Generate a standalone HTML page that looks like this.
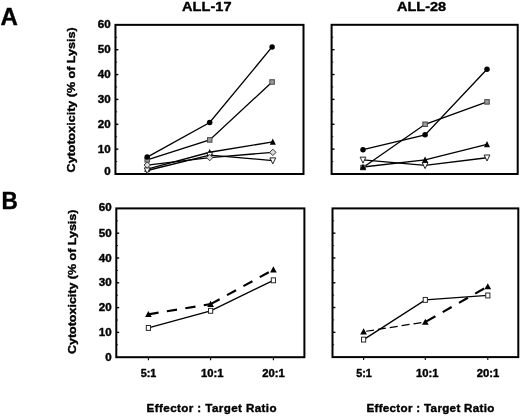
<!DOCTYPE html>
<html lang="en"><head><meta charset="utf-8"><title>Cytotoxicity figure</title>
<style>html,body{margin:0;padding:0;background:#fff;}svg{display:block;will-change:transform;}text{font-family:'Liberation Sans', Arial, Helvetica, sans-serif;font-weight:bold;fill:#000;stroke:#000;stroke-width:0.4px;stroke-linejoin:round;}</style>
</head><body>
<svg width="520" height="416" viewBox="0 0 520 416">
<rect width="520" height="416" fill="#fff"/>
<rect x="115.45" y="24.85" width="188.05" height="149.15" fill="none" stroke="#000" stroke-width="2.0"/>
<line x1="115.45" y1="49.71" x2="118.35000000000001" y2="49.71" stroke="#000" stroke-width="1.4"/>
<line x1="115.45" y1="74.57" x2="118.35000000000001" y2="74.57" stroke="#000" stroke-width="1.4"/>
<line x1="115.45" y1="99.43" x2="118.35000000000001" y2="99.43" stroke="#000" stroke-width="1.4"/>
<line x1="115.45" y1="124.28" x2="118.35000000000001" y2="124.28" stroke="#000" stroke-width="1.4"/>
<line x1="115.45" y1="149.14" x2="118.35000000000001" y2="149.14" stroke="#000" stroke-width="1.4"/>
<line x1="115.45" y1="37.28" x2="117.15" y2="37.28" stroke="#000" stroke-width="0.8"/>
<line x1="115.45" y1="62.14" x2="117.15" y2="62.14" stroke="#000" stroke-width="0.8"/>
<line x1="115.45" y1="87.00" x2="117.15" y2="87.00" stroke="#000" stroke-width="0.8"/>
<line x1="115.45" y1="111.85" x2="117.15" y2="111.85" stroke="#000" stroke-width="0.8"/>
<line x1="115.45" y1="136.71" x2="117.15" y2="136.71" stroke="#000" stroke-width="0.8"/>
<line x1="115.45" y1="161.57" x2="117.15" y2="161.57" stroke="#000" stroke-width="0.8"/>
<rect x="331.6" y="24.8" width="186.10" height="149.20" fill="none" stroke="#000" stroke-width="2.0"/>
<line x1="331.6" y1="49.67" x2="334.5" y2="49.67" stroke="#000" stroke-width="1.4"/>
<line x1="331.6" y1="74.53" x2="334.5" y2="74.53" stroke="#000" stroke-width="1.4"/>
<line x1="331.6" y1="99.40" x2="334.5" y2="99.40" stroke="#000" stroke-width="1.4"/>
<line x1="331.6" y1="124.27" x2="334.5" y2="124.27" stroke="#000" stroke-width="1.4"/>
<line x1="331.6" y1="149.13" x2="334.5" y2="149.13" stroke="#000" stroke-width="1.4"/>
<line x1="331.6" y1="37.23" x2="333.3" y2="37.23" stroke="#000" stroke-width="0.8"/>
<line x1="331.6" y1="62.10" x2="333.3" y2="62.10" stroke="#000" stroke-width="0.8"/>
<line x1="331.6" y1="86.97" x2="333.3" y2="86.97" stroke="#000" stroke-width="0.8"/>
<line x1="331.6" y1="111.83" x2="333.3" y2="111.83" stroke="#000" stroke-width="0.8"/>
<line x1="331.6" y1="136.70" x2="333.3" y2="136.70" stroke="#000" stroke-width="0.8"/>
<line x1="331.6" y1="161.57" x2="333.3" y2="161.57" stroke="#000" stroke-width="0.8"/>
<rect x="116.3" y="208.4" width="188.10" height="148.80" fill="none" stroke="#000" stroke-width="2.0"/>
<line x1="116.3" y1="233.20" x2="119.2" y2="233.20" stroke="#000" stroke-width="1.4"/>
<line x1="116.3" y1="258.00" x2="119.2" y2="258.00" stroke="#000" stroke-width="1.4"/>
<line x1="116.3" y1="282.80" x2="119.2" y2="282.80" stroke="#000" stroke-width="1.4"/>
<line x1="116.3" y1="307.60" x2="119.2" y2="307.60" stroke="#000" stroke-width="1.4"/>
<line x1="116.3" y1="332.40" x2="119.2" y2="332.40" stroke="#000" stroke-width="1.4"/>
<line x1="116.3" y1="220.80" x2="118.0" y2="220.80" stroke="#000" stroke-width="0.8"/>
<line x1="116.3" y1="245.60" x2="118.0" y2="245.60" stroke="#000" stroke-width="0.8"/>
<line x1="116.3" y1="270.40" x2="118.0" y2="270.40" stroke="#000" stroke-width="0.8"/>
<line x1="116.3" y1="295.20" x2="118.0" y2="295.20" stroke="#000" stroke-width="0.8"/>
<line x1="116.3" y1="320.00" x2="118.0" y2="320.00" stroke="#000" stroke-width="0.8"/>
<line x1="116.3" y1="344.80" x2="118.0" y2="344.80" stroke="#000" stroke-width="0.8"/>
<rect x="332.5" y="208.4" width="185.80" height="148.70" fill="none" stroke="#000" stroke-width="2.0"/>
<line x1="332.5" y1="233.18" x2="335.4" y2="233.18" stroke="#000" stroke-width="1.4"/>
<line x1="332.5" y1="257.97" x2="335.4" y2="257.97" stroke="#000" stroke-width="1.4"/>
<line x1="332.5" y1="282.75" x2="335.4" y2="282.75" stroke="#000" stroke-width="1.4"/>
<line x1="332.5" y1="307.53" x2="335.4" y2="307.53" stroke="#000" stroke-width="1.4"/>
<line x1="332.5" y1="332.32" x2="335.4" y2="332.32" stroke="#000" stroke-width="1.4"/>
<line x1="332.5" y1="220.79" x2="334.2" y2="220.79" stroke="#000" stroke-width="0.8"/>
<line x1="332.5" y1="245.58" x2="334.2" y2="245.58" stroke="#000" stroke-width="0.8"/>
<line x1="332.5" y1="270.36" x2="334.2" y2="270.36" stroke="#000" stroke-width="0.8"/>
<line x1="332.5" y1="295.14" x2="334.2" y2="295.14" stroke="#000" stroke-width="0.8"/>
<line x1="332.5" y1="319.93" x2="334.2" y2="319.93" stroke="#000" stroke-width="0.8"/>
<line x1="332.5" y1="344.71" x2="334.2" y2="344.71" stroke="#000" stroke-width="0.8"/>
<line x1="148.4" y1="357.2" x2="148.4" y2="360.2" stroke="#000" stroke-width="1.1"/>
<line x1="210.6" y1="357.2" x2="210.6" y2="360.2" stroke="#000" stroke-width="1.1"/>
<line x1="273.4" y1="357.2" x2="273.4" y2="360.2" stroke="#000" stroke-width="1.1"/>
<line x1="363.6" y1="357.1" x2="363.6" y2="360.1" stroke="#000" stroke-width="1.1"/>
<line x1="425.3" y1="357.1" x2="425.3" y2="360.1" stroke="#000" stroke-width="1.1"/>
<line x1="487.8" y1="357.1" x2="487.8" y2="360.1" stroke="#000" stroke-width="1.1"/>
<text x="0.4" y="25" font-size="24">A</text>
<text x="1.5" y="208.5" font-size="23.3" textLength="16.3" lengthAdjust="spacingAndGlyphs">B</text>
<text x="182.1" y="11.3" font-size="13.5" textLength="49.4" lengthAdjust="spacingAndGlyphs">ALL-17</text>
<text x="397.1" y="11.3" font-size="13.5" textLength="49.0" lengthAdjust="spacingAndGlyphs">ALL-28</text>
<text x="110.6" y="28.00" font-size="10.6" text-anchor="end" textLength="12.9" lengthAdjust="spacingAndGlyphs">60</text>
<text x="110.6" y="53.07" font-size="10.6" text-anchor="end" textLength="12.9" lengthAdjust="spacingAndGlyphs">50</text>
<text x="110.6" y="78.33" font-size="10.6" text-anchor="end" textLength="12.9" lengthAdjust="spacingAndGlyphs">40</text>
<text x="110.6" y="103.30" font-size="10.6" text-anchor="end" textLength="12.9" lengthAdjust="spacingAndGlyphs">30</text>
<text x="110.6" y="128.17" font-size="10.6" text-anchor="end" textLength="12.9" lengthAdjust="spacingAndGlyphs">20</text>
<text x="110.6" y="152.63" font-size="10.6" text-anchor="end" textLength="12.9" lengthAdjust="spacingAndGlyphs">10</text>
<text x="110.6" y="174.80" font-size="10.6" text-anchor="end" textLength="6.45" lengthAdjust="spacingAndGlyphs">0</text>
<text x="111.6" y="211.30" font-size="10.6" text-anchor="end" textLength="12.9" lengthAdjust="spacingAndGlyphs">60</text>
<text x="111.6" y="237.00" font-size="10.6" text-anchor="end" textLength="12.9" lengthAdjust="spacingAndGlyphs">50</text>
<text x="111.6" y="261.90" font-size="10.6" text-anchor="end" textLength="12.9" lengthAdjust="spacingAndGlyphs">40</text>
<text x="111.6" y="286.00" font-size="10.6" text-anchor="end" textLength="12.9" lengthAdjust="spacingAndGlyphs">30</text>
<text x="111.6" y="310.90" font-size="10.6" text-anchor="end" textLength="12.9" lengthAdjust="spacingAndGlyphs">20</text>
<text x="111.6" y="335.70" font-size="10.6" text-anchor="end" textLength="12.9" lengthAdjust="spacingAndGlyphs">10</text>
<text x="111.6" y="360.90" font-size="10.6" text-anchor="end" textLength="6.45" lengthAdjust="spacingAndGlyphs">0</text>
<text transform="translate(75.1,172.4) rotate(-90)" font-size="11.6" textLength="145.0" lengthAdjust="spacingAndGlyphs">Cytotoxicity (% of Lysis)</text>
<text transform="translate(76.0,354.0) rotate(-90)" font-size="11.6" textLength="144.4" lengthAdjust="spacingAndGlyphs">Cytotoxicity (% of Lysis)</text>
<text x="148.5" y="377.2" font-size="10.6" text-anchor="middle" textLength="15.6" lengthAdjust="spacingAndGlyphs">5:1</text>
<text x="212.2" y="377.2" font-size="10.6" text-anchor="middle" textLength="22.5" lengthAdjust="spacingAndGlyphs">10:1</text>
<text x="273.5" y="377.2" font-size="10.6" text-anchor="middle" textLength="22.5" lengthAdjust="spacingAndGlyphs">20:1</text>
<text x="364.0" y="376.8" font-size="10.6" text-anchor="middle" textLength="15.6" lengthAdjust="spacingAndGlyphs">5:1</text>
<text x="427.3" y="376.8" font-size="10.6" text-anchor="middle" textLength="22.5" lengthAdjust="spacingAndGlyphs">10:1</text>
<text x="487.90000000000003" y="376.8" font-size="10.6" text-anchor="middle" textLength="22.5" lengthAdjust="spacingAndGlyphs">20:1</text>
<text x="146.6" y="412.2" font-size="11.6" textLength="130" lengthAdjust="spacing">Effector : Target Ratio</text>
<text x="366.4" y="412.2" font-size="11.6" textLength="128" lengthAdjust="spacing">Effector : Target Ratio</text>
<polyline points="147.20,157.09 209.70,122.53 272.10,46.93" fill="none" stroke="#000" stroke-width="1.35"/>
<polyline points="147.20,159.83 209.70,139.93 272.10,81.99" fill="none" stroke="#000" stroke-width="1.35"/>
<polyline points="147.20,169.03 209.70,152.24 272.80,141.92" fill="none" stroke="#000" stroke-width="1.35"/>
<polyline points="147.20,165.05 209.70,157.59 272.80,152.37" fill="none" stroke="#000" stroke-width="1.35"/>
<polyline points="147.20,170.52 209.70,155.10 272.80,160.57" fill="none" stroke="#000" stroke-width="1.35"/>
<polygon points="144.15,171.78 150.25,171.78 147.20,165.73" fill="#000"/>
<polygon points="206.65,154.99 212.75,154.99 209.70,148.94" fill="#000"/>
<polygon points="269.75,144.67 275.85,144.67 272.80,138.62" fill="#000"/>
<polygon points="144.30,167.82 150.10,167.82 147.20,173.82" fill="#fff" stroke="#222" stroke-width="1" stroke-linejoin="miter"/>
<polygon points="206.80,152.40 212.60,152.40 209.70,158.40" fill="#fff" stroke="#222" stroke-width="1" stroke-linejoin="miter"/>
<polygon points="269.90,157.87 275.70,157.87 272.80,163.87" fill="#fff" stroke="#222" stroke-width="1" stroke-linejoin="miter"/>
<polygon points="144.00,165.05 147.20,161.85 150.40,165.05 147.20,168.25" fill="#dadada" stroke="#333" stroke-width="1"/>
<polygon points="206.50,157.59 209.70,154.39 212.90,157.59 209.70,160.79" fill="#dadada" stroke="#333" stroke-width="1"/>
<polygon points="269.60,152.37 272.80,149.17 276.00,152.37 272.80,155.57" fill="#dadada" stroke="#333" stroke-width="1"/>
<rect x="144.95" y="157.58" width="4.5" height="4.5" fill="#9c9c9c" stroke="#464646" stroke-width="1"/>
<rect x="207.45" y="137.68" width="4.5" height="4.5" fill="#9c9c9c" stroke="#464646" stroke-width="1"/>
<rect x="269.85" y="79.74" width="4.5" height="4.5" fill="#9c9c9c" stroke="#464646" stroke-width="1"/>
<circle cx="147.20" cy="157.09" r="2.75" fill="#000"/>
<circle cx="209.70" cy="122.53" r="2.75" fill="#000"/>
<circle cx="272.10" cy="46.93" r="2.75" fill="#000"/>
<polyline points="363.00,149.63 425.10,134.84 487.00,69.31" fill="none" stroke="#000" stroke-width="1.35"/>
<polyline points="363.00,167.53 425.10,124.27 487.00,101.89" fill="none" stroke="#000" stroke-width="1.35"/>
<polyline points="363.00,167.04 425.10,159.83 487.00,144.41" fill="none" stroke="#000" stroke-width="1.35"/>
<polyline points="363.00,159.83 425.10,165.30 487.00,157.71" fill="none" stroke="#000" stroke-width="1.35"/>
<rect x="360.75" y="165.28" width="4.5" height="4.5" fill="#9c9c9c" stroke="#464646" stroke-width="1"/>
<rect x="422.85" y="122.02" width="4.5" height="4.5" fill="#9c9c9c" stroke="#464646" stroke-width="1"/>
<rect x="484.75" y="99.64" width="4.5" height="4.5" fill="#9c9c9c" stroke="#464646" stroke-width="1"/>
<polygon points="360.10,157.13 365.90,157.13 363.00,163.13" fill="#fff" stroke="#222" stroke-width="1" stroke-linejoin="miter"/>
<polygon points="422.20,162.60 428.00,162.60 425.10,168.60" fill="#fff" stroke="#222" stroke-width="1" stroke-linejoin="miter"/>
<polygon points="484.10,155.01 489.90,155.01 487.00,161.01" fill="#fff" stroke="#222" stroke-width="1" stroke-linejoin="miter"/>
<polygon points="359.95,169.79 366.05,169.79 363.00,163.74" fill="#000"/>
<polygon points="422.05,162.58 428.15,162.58 425.10,156.53" fill="#000"/>
<polygon points="483.95,147.16 490.05,147.16 487.00,141.11" fill="#000"/>
<circle cx="363.00" cy="149.63" r="2.75" fill="#000"/>
<circle cx="425.10" cy="134.84" r="2.75" fill="#000"/>
<circle cx="487.00" cy="69.31" r="2.75" fill="#000"/>
<polyline points="148.40,327.94 210.60,310.82 273.40,280.32" fill="none" stroke="#000" stroke-width="1.35"/>
<line x1="148.40" y1="314.30" x2="210.60" y2="304.13" stroke="#000" stroke-width="2.2" stroke-dasharray="10.3 8.4" stroke-dashoffset="0"/>
<line x1="210.60" y1="304.13" x2="273.40" y2="269.66" stroke="#000" stroke-width="2.2" stroke-dasharray="10.3 8.4" stroke-dashoffset="0"/>
<rect x="146.30" y="325.49" width="4.2" height="4.9" fill="#fff" stroke="#2a2a2a" stroke-width="1"/>
<rect x="208.50" y="308.37" width="4.2" height="4.9" fill="#fff" stroke="#2a2a2a" stroke-width="1"/>
<rect x="271.30" y="277.87" width="4.2" height="4.9" fill="#fff" stroke="#2a2a2a" stroke-width="1"/>
<polygon points="145.05,317.05 151.75,317.05 148.40,311.00" fill="#000"/>
<polygon points="207.25,306.88 213.95,306.88 210.60,300.83" fill="#000"/>
<polygon points="270.05,272.41 276.75,272.41 273.40,266.36" fill="#000"/>
<polyline points="363.60,339.59 425.30,299.91 487.80,295.45" fill="none" stroke="#000" stroke-width="1.35"/>
<line x1="363.60" y1="331.66" x2="425.30" y2="321.98" stroke="#000" stroke-width="1.2" stroke-dasharray="8 4" stroke-dashoffset="9.5"/>
<line x1="425.30" y1="321.98" x2="487.80" y2="286.52" stroke="#000" stroke-width="2.2" stroke-dasharray="10.3 8.4" stroke-dashoffset="-1.3"/>
<rect x="361.50" y="337.14" width="4.2" height="4.9" fill="#fff" stroke="#2a2a2a" stroke-width="1"/>
<rect x="423.20" y="297.46" width="4.2" height="4.9" fill="#fff" stroke="#2a2a2a" stroke-width="1"/>
<rect x="485.70" y="293.00" width="4.2" height="4.9" fill="#fff" stroke="#2a2a2a" stroke-width="1"/>
<polygon points="360.25,334.41 366.95,334.41 363.60,328.36" fill="#000"/>
<polygon points="421.95,324.73 428.65,324.73 425.30,318.68" fill="#000"/>
<polygon points="484.45,289.27 491.15,289.27 487.80,283.22" fill="#000"/>
</svg>
</body></html>
